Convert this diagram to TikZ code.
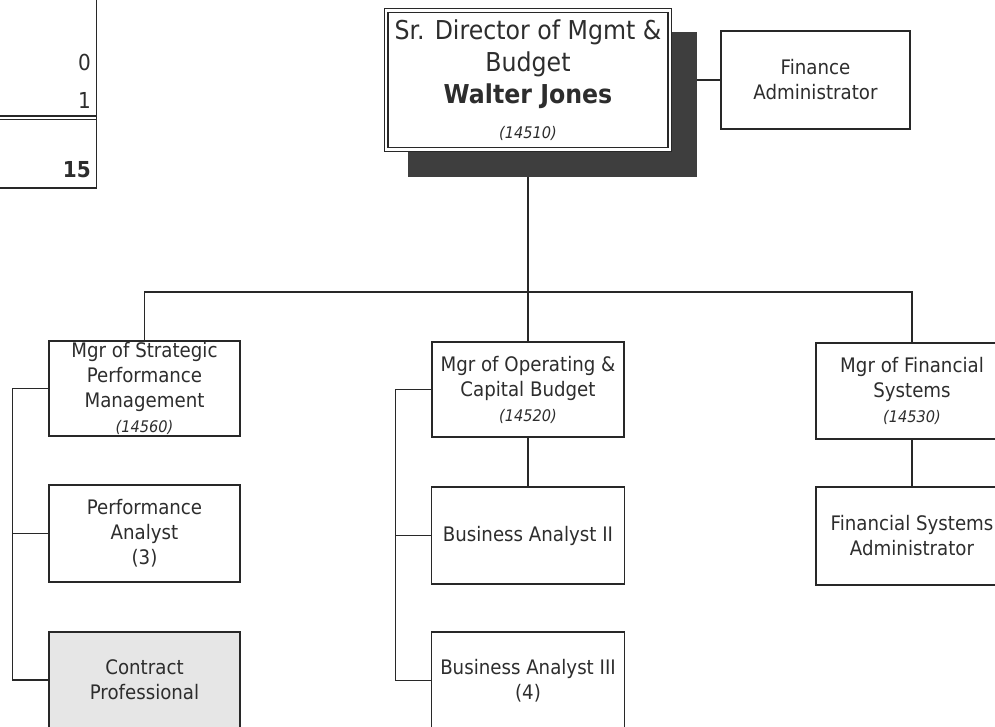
\documentclass[tikz,border=0pt]{standalone}
\usepackage{fontspec}
\setmainfont[FakeStretch=0.91]{DejaVu Sans}
\usetikzlibrary{backgrounds}

\definecolor{linegray}{RGB}{40,40,40}
\definecolor{textgray}{RGB}{45,45,45}
\definecolor{shadowgray}{RGB}{62,62,62}
\definecolor{tempfill}{RGB}{230,230,230}
\newcommand{\posno}[1]{{\fontsize{16}{25}\selectfont\itshape #1}}

\begin{document}
\begin{tikzpicture}[x=1pt,y=-1pt,
  wire/.style={draw=linegray, line width=1.5pt},
  box/.style={draw=linegray, line width=1.5pt, fill=white, text=textgray,
    inner xsep=0pt, inner ysep=0pt, align=center,
    minimum width=192pt, minimum height=96pt,
    font=\fontsize{20}{25}\selectfont},
  topbox/.style={box, double=white, line width=1.3pt, double distance=2.2pt,
    minimum width=283.5pt, minimum height=139pt,
    font=\fontsize{26}{32}\selectfont},
  count/.style={anchor=east, inner sep=0pt, text=textgray,
    font=\fontsize{22}{26}\selectfont}]

\useasboundingbox (0,0) rectangle (995,726);
\clip (0,0) rectangle (995,726);

% totals column, top left
\draw[wire] (96.5,0) -- (96.5,188);
\draw[wire] (0,116) -- (96.5,116);
\draw[wire] (0,119.5) -- (96.5,119.5);
\draw[wire] (0,188) -- (96.5,188);
\node[count] (cnt0) at (91,62) {0};
\node[count] (cnt1) at (91,100) {1};
\node[count] (cnttotal) at (91,170) {\textbf{15}};

\node[topbox] (dir) at (528,80) {Sr. Director of Mgmt \&\\Budget\\\textbf{Walter Jones}\\[3pt]\posno{(14510)}};
\node[box, minimum width=189pt, minimum height=98pt] (fin) at (815.5,80) {Finance\\Administrator};

\coordinate (bus) at (528,292);

\node[box, minimum width=191pt, minimum height=95pt] (mgrA) at (144.5,388.5) {Mgr of Strategic\\Performance\\Management\\\posno{(14560)}};
\node[box, minimum height=95pt] (mgrB) at (528,389.5) {Mgr of Operating \&\\Capital Budget\\\posno{(14520)}};
\node[box] (mgrC) at (912,391) {Mgr of Financial\\Systems\\\posno{(14530)}};

\node[box, minimum width=191pt, minimum height=97pt] (perf) at (144.5,533.5) {Performance\\Analyst\\(3)};
\node[box, minimum width=191pt, fill=tempfill] (contr) at (144.5,680) {Contract\\Professional};

\node[box, minimum width=193pt, minimum height=97pt] (ba2) at (528,535.5) {Business Analyst II};
\node[box, minimum width=193pt, minimum height=97pt] (ba3) at (528,680.5) {Business Analyst III\\(4)};

\node[box, minimum height=98pt] (fsa) at (912,536) {Financial Systems\\Administrator};

\begin{scope}[on background layer]
\draw[wire] (dir.east) -- (fin.west);
\draw[wire] (dir.south) -- (mgrB.north);
\draw[wire] (mgrA.north) |- (bus) -| (mgrC.north);
\draw[wire] (mgrA.west) -- ++(-36,0) |- (contr.west);
\draw[wire] (perf.west) -- ++(-36,0);
\draw[wire] (mgrB.west) -- ++(-36,0) |- (ba3.west);
\draw[wire] (ba2.west) -- ++(-36,0);
\draw[wire] (mgrB.south) -- (ba2.north);
\draw[wire] (mgrC.south) -- (fsa.north);
\fill[shadowgray] ([shift={(22,22)}]dir.north west) rectangle ([shift={(27,27)}]dir.south east);
\end{scope}
\end{tikzpicture}
\end{document}
